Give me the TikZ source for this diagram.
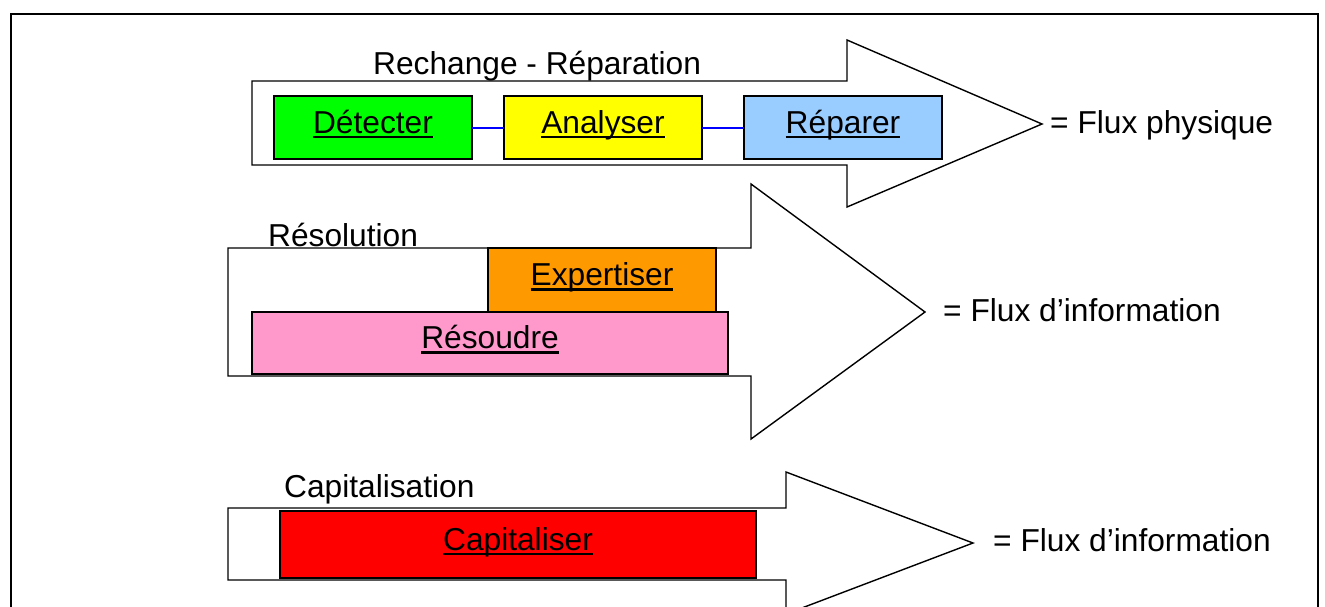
\documentclass[tikz,border=0pt]{standalone}
\usepackage{fontspec}
\setmainfont{Liberation Sans}
\usepackage{xcolor}
\definecolor{vert}{HTML}{00FF00}
\definecolor{jaune}{HTML}{FFFF00}
\definecolor{bleuclair}{HTML}{99CCFF}
\definecolor{orangefonce}{HTML}{FF9900}
\definecolor{rose}{HTML}{FF99CC}
\definecolor{rouge}{HTML}{FF0000}
\definecolor{bleulien}{HTML}{0000FF}
\usepackage{tikz}
\usetikzlibrary{positioning}

\newsavebox{\ulbox}
\newcommand{\souligne}[1]{\sbox{\ulbox}{#1}\rlap{\rule[-0.16em]{\wd\ulbox}{0.085em}}\usebox{\ulbox}}

\begin{document}
\begin{tikzpicture}[
  x=1pt,y=-1pt,
  every node/.style={font=\fontsize{31.7}{36}\selectfont},
  tache/.style={rectangle,draw,line width=1.6pt,inner sep=0pt,outer sep=0pt,
    minimum width=198pt,minimum height=63pt,text height=22.7pt,text depth=11.3pt},
  titre/.style={inner sep=0pt,anchor=base west},
  fleche/.style={draw,fill=white,line width=1.4pt},
  lien/.style={draw=bleulien,line width=2pt},
]
\useasboundingbox (0,0) rectangle (1325,606);
\clip (0,0) rectangle (1325,606);

% Cadre
\draw[line width=2pt] (11,620) -- (11,14) -- (1318,14) -- (1318,620);

% Fleches
\draw[fleche] (252,81) -- (847,81) -- (847,40) -- (1042,124) -- (847,207) -- (847,165) -- (252,165) -- cycle;
\draw[fleche] (228,248) -- (751,248) -- (751,184) -- (925,312) -- (751,439) -- (751,376) -- (228,376) -- cycle;
\draw[fleche] (228,508) -- (786,508) -- (786,472) -- (973,543) -- (786,614) -- (786,580) -- (228,580) -- cycle;

% Rechange - Reparation
\node[titre] (rechange) at (373,74) {Rechange - Réparation};
\node[tache,fill=vert] (detecter) at (373,127.5) {\souligne{Détecter}};
\node[tache,fill=jaune,right=32pt of detecter] (analyser) {\souligne{Analyser}};
\node[tache,fill=bleuclair,right=42pt of analyser] (reparer) {\souligne{Réparer}};
\node[titre] (physique) at (1050,133) {= Flux physique};

\path[lien] (detecter.east) -- (analyser.west);
\path[lien] (analyser.east) -- (reparer.west);

% Resolution
\node[titre] (resolution) at (268,246) {Résolution};
\node[tache,fill=orangefonce,minimum width=228pt,minimum height=64pt] (expertiser) at (602,280) {\souligne{Expertiser}};
\node[tache,fill=rose,minimum width=476pt,minimum height=62pt] (resoudre) at (490,343) {\souligne{Résoudre}};
\node[titre] (info1) at (943,321.5) {= Flux d’information};

% Capitalisation
\node[titre] (capitalisation) at (284,497) {Capitalisation};
\node[tache,fill=rouge,minimum width=476pt,minimum height=67pt] (capitaliser) at (518,544.5) {\souligne{Capitaliser}};
\node[titre] (info2) at (993,551.5) {= Flux d’information};
\end{tikzpicture}
\end{document}
